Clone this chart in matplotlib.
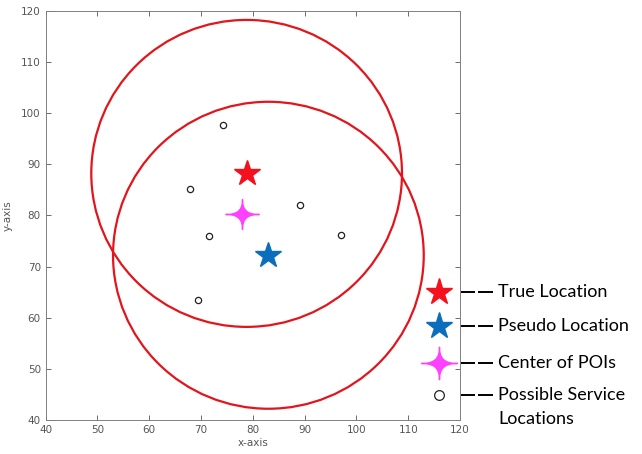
#!/usr/bin/env python3

import numpy as np
import matplotlib
matplotlib.use("Agg")
import matplotlib.pyplot as plt
from matplotlib.path import Path
from matplotlib.patches import Circle

# data
true_loc = (78.8, 88.2)
pseudo_loc = (83.0, 72.2)
poi_center = (78.0, 80.2)
radius = 30.0
service_x = [74.2, 67.9, 89.2, 71.5, 97.0, 69.5]
service_y = [97.7, 85.2, 82.0, 75.9, 76.1, 63.4]

legend_labels = ["True Location", "Pseudo Location", "Center of POIs", "Possible Service", "Locations"]
legend_y = [65.1, 58.3, 51.2, 44.8]
legend_x = 116.0

RED = "#F5101E"
BLUE = "#0A6EBD"
MAGENTA = "#FF40FF"
CIRCLE_RED = "#E3141C"
GRAY = "#555555"


def sparkle_marker():
    # concave 4 point star (super-ellipse with exponent > 1)
    t = np.linspace(0, 2 * np.pi, 240)
    p = 4.2
    x = np.sign(np.cos(t)) * np.abs(np.cos(t)) ** p
    y = 0.9 * np.sign(np.sin(t)) * np.abs(np.sin(t)) ** p
    verts = np.column_stack([x, y])
    codes = [Path.MOVETO] + [Path.LINETO] * (len(verts) - 2) + [Path.CLOSEPOLY]
    return Path(verts, codes)


def main():
    fig = plt.figure(figsize=(6.42, 4.54), dpi=100)
    ax = fig.add_axes([0.0712, 0.0749, 0.6453, 0.9015])

    sparkle = sparkle_marker()

    for c in (true_loc, pseudo_loc):
        ax.add_patch(Circle(c, radius, fill=False, edgecolor=CIRCLE_RED, linewidth=1.6))

    ax.plot(service_x, service_y, "o", markersize=4.5, markerfacecolor="none",
            markeredgecolor="#222222", markeredgewidth=0.9, linestyle="none")
    ax.plot(*true_loc, marker="*", markersize=19, color=RED, linestyle="none")
    ax.plot(*pseudo_loc, marker="*", markersize=19, color=BLUE, linestyle="none")
    ax.plot(*poi_center, marker=sparkle, markersize=24, color=MAGENTA, linestyle="none")

    # hand made legend on the right
    styles = [
        dict(marker="*", markersize=20, color=RED),
        dict(marker="*", markersize=20, color=BLUE),
        dict(marker=sparkle, markersize=26, color=MAGENTA),
        dict(marker="o", markersize=7, markerfacecolor="none",
             markeredgecolor="#222222", markeredgewidth=0.9),
    ]
    for y, label, st in zip(legend_y, legend_labels, styles):
        ax.plot(legend_x, y, linestyle="none", clip_on=False, **st)
        ax.plot([120.1, 122.9], [y, y], color="black", linewidth=1.4,
                solid_capstyle="butt", clip_on=False)
        ax.plot([123.5, 126.3], [y, y], color="black", linewidth=1.4,
                solid_capstyle="butt", clip_on=False)
        ax.text(127.4, y, label, fontsize=13, va="center", ha="left",
                family="Lato", color="black", clip_on=False)
    ax.text(127.4, legend_y[-1] - 4.6, legend_labels[-1], fontsize=13, va="center",
            ha="left", family="Lato", color="black", clip_on=False)

    ax.set_xlim(40, 120)
    ax.set_ylim(40, 120)
    ax.set_xticks(range(40, 121, 10))
    ax.set_yticks(range(40, 121, 10))
    ax.tick_params(direction="in", top=True, right=True, labelsize=7.5,
                   colors=GRAY, length=3.5, width=0.6)
    for sp in ax.spines.values():
        sp.set_color("#808080")
        sp.set_linewidth(0.7)
    ax.set_xlabel("x-axis", fontsize=7.5, color=GRAY, labelpad=2)
    ax.set_ylabel("y-axis", fontsize=7.5, color=GRAY, labelpad=6)

    fig.savefig("out.png", dpi=100)
    plt.close(fig)


if __name__ == "__main__":
    main()
